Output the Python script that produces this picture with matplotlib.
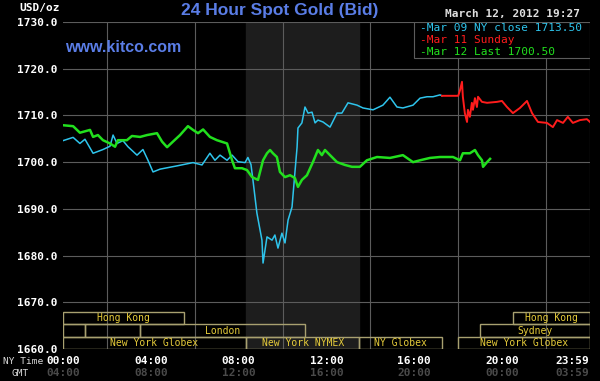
import numpy as np
import matplotlib
matplotlib.use("Agg")
import matplotlib.pyplot as plt
import matplotlib.transforms as mtransforms
from matplotlib.patches import Rectangle

# Mar 09 NY close (hours NY time, USD/oz)
cyan_hours = [0.00, 0.46, 0.77, 1.00, 1.37, 1.82, 2.14, 2.28, 2.46, 2.73, 2.96, 3.37, 3.64, 3.87,
              4.10, 4.42, 5.19, 5.92, 6.33, 6.69, 6.92, 7.15, 7.47, 7.70, 7.97, 8.29, 8.42, 8.56,
              8.65, 8.83, 9.06, 9.11, 9.29, 9.52, 9.65, 9.79, 9.97, 10.11, 10.25, 10.43, 10.56,
              10.66, 10.70, 10.88, 11.02, 11.16, 11.34, 11.48, 11.61, 11.84, 12.16, 12.48, 12.70,
              12.98, 13.39, 13.66, 14.12, 14.57, 14.89, 15.21, 15.48, 15.94, 16.26, 16.58, 16.85,
              17.17, 17.26]
cyan_price = [1704.6, 1705.3, 1704.0, 1704.9, 1701.9, 1702.7, 1703.4, 1705.8, 1704.0, 1704.6,
              1703.3, 1701.5, 1702.7, 1700.4, 1697.9, 1698.5, 1699.2, 1699.9, 1699.4, 1701.9,
              1700.4, 1701.5, 1700.4, 1701.5, 1700.1, 1699.9, 1701.0, 1699.5, 1696.2, 1689.1,
              1683.3, 1678.4, 1684.0, 1683.3, 1684.4, 1681.6, 1684.8, 1682.7, 1687.6, 1690.4,
              1697.7, 1703.2, 1707.3, 1708.4, 1711.8, 1710.5, 1710.7, 1708.4, 1709.0, 1708.6,
              1707.5, 1710.5, 1710.5, 1712.7, 1712.2, 1711.6, 1711.2, 1712.2, 1713.9, 1711.8,
              1711.6, 1712.2, 1713.7, 1714.0, 1714.0, 1714.4, 1714.2]

# Mar 11 Sunday
red_hours = [17.26, 18.00, 18.08, 18.17, 18.21, 18.30, 18.40, 18.44, 18.53, 18.62, 18.67, 18.76,
             18.85, 18.90, 19.08, 19.31, 19.76, 19.99, 20.22, 20.49, 20.81, 21.13, 21.36, 21.63,
             22.04, 22.31, 22.50, 22.77, 22.99, 23.22, 23.54, 23.86, 24.00]
red_price = [1714.2, 1714.2, 1715.4, 1717.2, 1714.0, 1710.5, 1708.6, 1711.2, 1709.7, 1712.7,
             1711.2, 1713.7, 1711.8, 1714.0, 1712.9, 1712.7, 1712.9, 1713.1, 1711.8, 1710.5,
             1711.6, 1713.1, 1710.5, 1708.6, 1708.4, 1707.5, 1709.0, 1708.4, 1709.7, 1708.4,
             1709.0, 1709.2, 1708.6]

# Mar 12 Last
green_hours = [0.00, 0.46, 0.77, 1.23, 1.37, 1.59, 1.82, 2.14, 2.37, 2.50, 2.91, 3.14, 3.51, 3.83,
               4.28, 4.51, 4.74, 5.01, 5.33, 5.69, 5.92, 6.15, 6.38, 6.69, 7.01, 7.47, 7.70, 7.83,
               8.15, 8.38, 8.61, 8.88, 9.11, 9.29, 9.43, 9.56, 9.74, 9.88, 10.11, 10.34, 10.56,
               10.70, 10.88, 11.11, 11.38, 11.61, 11.79, 11.93, 12.16, 12.48, 12.84, 13.16, 13.52,
               13.84, 14.30, 14.89, 15.48, 15.94, 16.26, 16.71, 17.17, 17.76, 18.08, 18.21, 18.53,
               18.76, 18.90, 19.08, 19.13, 19.31, 19.45]
green_price = [1707.9, 1707.7, 1706.3, 1706.9, 1705.4, 1705.8, 1704.7, 1704.0, 1703.3, 1704.7,
               1704.7, 1705.6, 1705.4, 1705.8, 1706.2, 1704.4, 1703.2, 1704.4, 1705.8, 1707.7,
               1706.9, 1706.2, 1707.0, 1705.4, 1704.7, 1704.0, 1700.4, 1698.7, 1698.7, 1698.3,
               1696.8, 1696.2, 1700.4, 1701.9, 1702.6, 1701.9, 1701.1, 1697.9, 1696.8, 1697.2,
               1696.6, 1694.7, 1696.2, 1697.2, 1700.0, 1702.6, 1701.5, 1702.6, 1701.5, 1700.0,
               1699.4, 1699.0, 1699.0, 1700.4, 1701.1, 1700.9, 1701.5, 1700.0, 1700.4, 1700.9,
               1701.1, 1701.1, 1700.4, 1701.9, 1701.9, 1702.6, 1701.5, 1700.4, 1699.0, 1700.0,
               1700.7]

legend_labels = ["-Mar 09 NY close 1713.50", "-Mar 11 Sunday", "-Mar 12 Last 1700.50"]

# trading sessions: row (0 = top), start hour, end hour, name
session_row = [0, 0, 1, 1, 1, 1, 2, 2, 2, 2]
session_start = [0.0, 20.5, 0.0, 1.0, 3.5, 19.0, 0.0, 8.33, 13.5, 18.0]
session_end = [5.5, 24.0, 1.0, 3.5, 11.0, 24.0, 8.33, 13.5, 17.25, 24.0]
session_name = ["Hong Kong", "Hong Kong", "", "", "London", "Sydney",
                "New York Globex", "New York NYMEX", "NY Globex", "New York Globex"]

nymex_open, nymex_close = 8.33, 13.5

ny_ticks = [0, 4, 8, 12, 16, 20, 23.98]
ny_labels = ["00:00", "04:00", "08:00", "12:00", "16:00", "20:00", "23:59"]
gmt_labels = ["04:00", "08:00", "12:00", "16:00", "20:00", "00:00", "03:59"]

CYAN = "#2ec4ec"
RED = "#ff1c1c"
GREEN = "#22e01e"
BLUE = "#5a7de6"
GRID = "#5c5c5c"
GOLD = "#e6cc3a"
BOX = "#a8a070"
MONO = "DejaVu Sans Mono"

fig = plt.figure(figsize=(6, 3.81), dpi=100, facecolor="black")
ax = fig.add_axes([63 / 600, 32 / 381, 527 / 600, 327 / 381], facecolor="black")

ax.set_xlim(0, 24)
ax.set_ylim(1660, 1730)

# NYMEX pit hours shading
ax.axvspan(nymex_open, nymex_close, color="#1d1d1d", zorder=0)

# grid
ax.set_xticks(np.arange(0, 25, 2), minor=True)
ax.set_xticks(ny_ticks)
ax.set_xticklabels(ny_labels, family=MONO, fontweight="bold", fontsize=8, color="white")
ax.get_xticklabels()[-1].set_horizontalalignment("right")
ax.set_yticks(np.arange(1660, 1731, 10))
ax.set_yticklabels([f"{v:.1f}" for v in np.arange(1660, 1731, 10)],
                   family=MONO, fontweight="bold", fontsize=8, color="white")
ax.grid(False)
ax.grid(True, which="minor", axis="x", color=GRID, lw=0.8, zorder=1)
ax.grid(True, which="major", axis="y", color=GRID, lw=0.8, zorder=1)
ax.tick_params(which="both", length=0)
ax.tick_params(axis="x", pad=5)
ax.tick_params(axis="y", pad=4)
for s in ax.spines.values():
    s.set_visible(False)

# price lines
ax.plot(cyan_hours, cyan_price, color=CYAN, lw=1.1, zorder=4)
ax.plot(red_hours, red_price, color=RED, lw=1.4, zorder=4)
ax.plot(green_hours, green_price, color=GREEN, lw=1.8, zorder=5)

# session boxes at the bottom
trans = mtransforms.blended_transform_factory(ax.transData, ax.transAxes)
row_h = 12.3 / 327
for row, start, end, name in zip(session_row, session_start, session_end, session_name):
    y0 = (2 - row) * row_h
    ax.add_patch(Rectangle((start, y0), end - start, row_h, transform=trans,
                           fill=False, edgecolor=BOX, lw=1.0, zorder=6))
    if name:
        ax.text((start + end) / 2, y0 + row_h / 2, name, transform=trans,
                ha="center", va="center", family=MONO, fontsize=7, color=GOLD, zorder=7)

# legend box
ax.add_patch(Rectangle((16, 1722.3), 8, 7.7, facecolor="black", edgecolor=GRID,
                       lw=0.8, zorder=8))
for i, (lab, col) in enumerate(zip(legend_labels, [CYAN, RED, GREEN])):
    ax.text(16.25, 1728.8 - i * 2.6, lab, family=MONO, fontsize=8, color=col,
            ha="left", va="center", zorder=9)

# GMT labels under NY time
for i, (h, lab) in enumerate(zip(ny_ticks, gmt_labels)):
    ax.text(h, -0.073, lab, transform=trans, ha="right" if i == len(gmt_labels) - 1 else "center",
            va="center", family=MONO, fontweight="bold", fontsize=8, color="#4a4a4a")

fig.text(43 / 600, 1 - 362 / 381, "NY Time", ha="right", va="center", family=MONO,
         fontsize=6.8, color="#d8d8d8")
fig.text(29 / 600, 1 - 373 / 381, "GMT", ha="right", va="center", family=MONO,
         fontsize=6.8, color="#d8d8d8")
fig.text(60 / 600, 1 - 8 / 381, "USD/oz", ha="right", va="center", family=MONO,
         fontweight="bold", fontsize=8, color="white")
fig.text(580 / 600, 1 - 14 / 381, "March 12, 2012 19:27", ha="right", va="center",
         family=MONO, fontweight="bold", fontsize=8, color="#e0e0e0")

fig.text(280 / 600, 1 - 10 / 381, "24 Hour Spot Gold (Bid)", ha="center", va="center",
         family="Liberation Sans", fontweight="bold", fontsize=12.5, color=BLUE)
ax.text(0.1, 1724.5, "www.kitco.com", ha="left", va="center",
        family="Liberation Sans", fontweight="bold", fontsize=11.5, color=BLUE, zorder=3)

fig.savefig("out.png", dpi=100, facecolor="black")
